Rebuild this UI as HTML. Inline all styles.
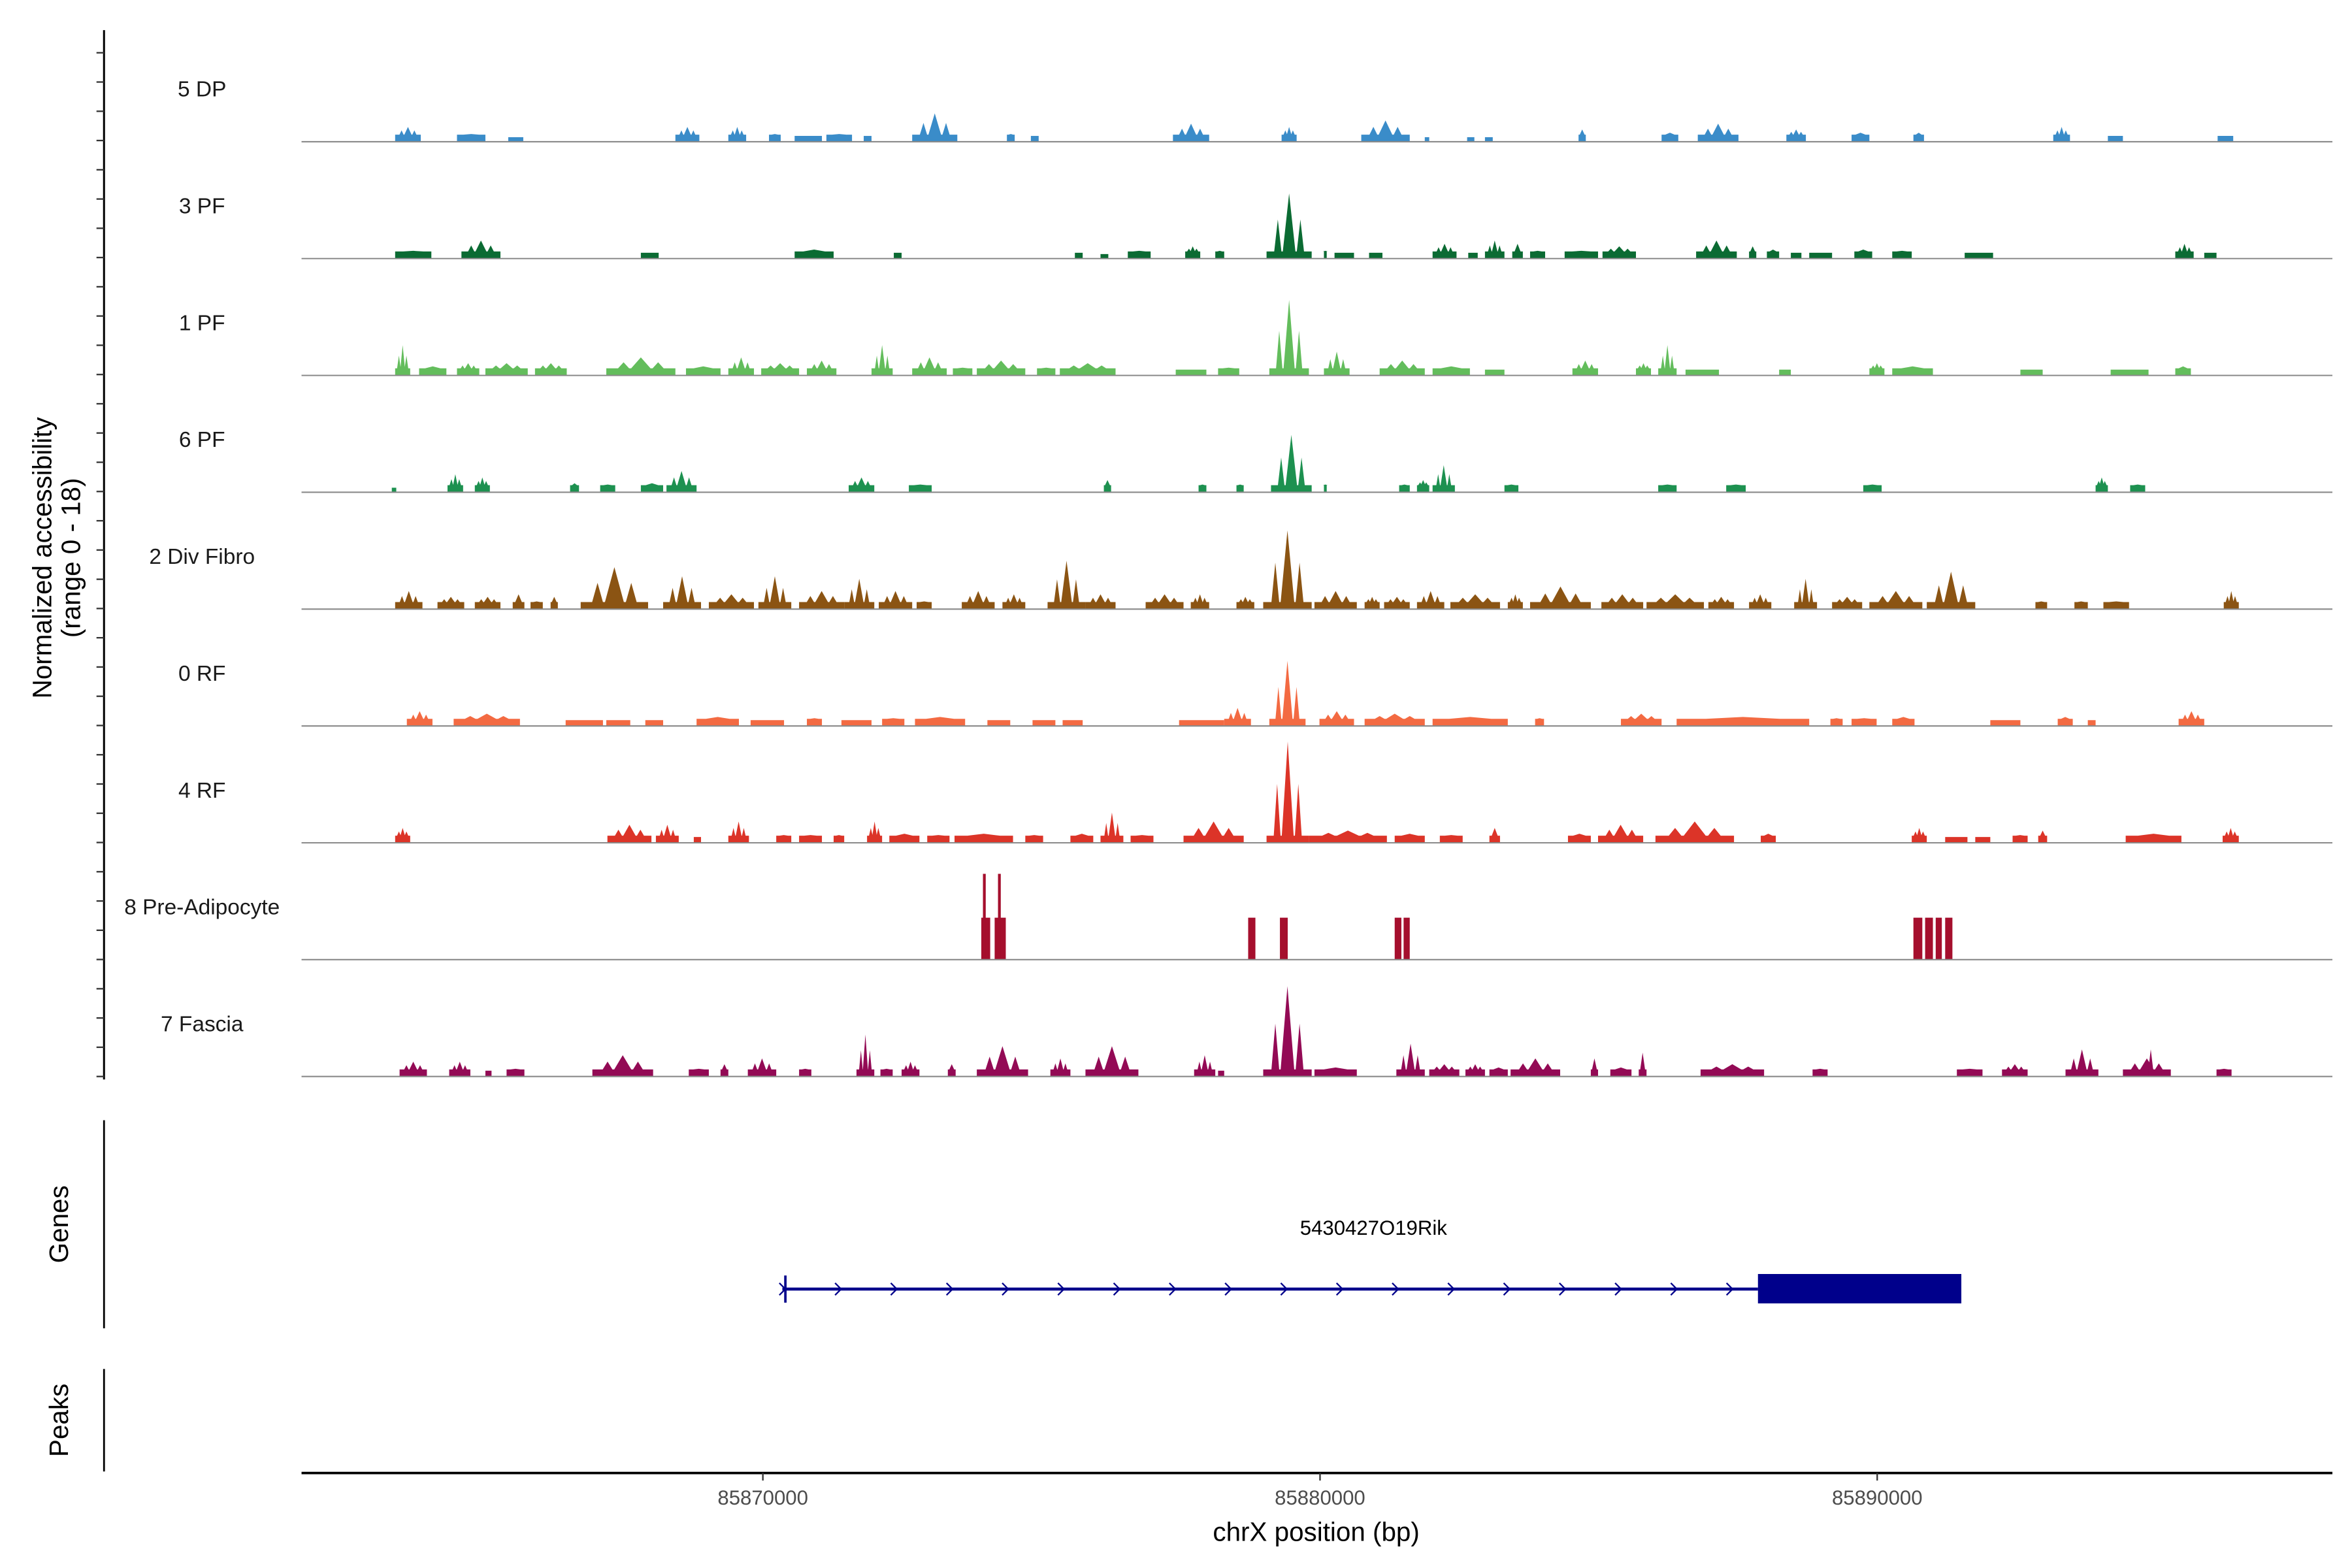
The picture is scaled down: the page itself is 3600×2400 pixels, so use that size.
<!DOCTYPE html>
<html><head><meta charset="utf-8">
<style>
html,body{margin:0;padding:0;background:#fff;}
svg{display:block;font-family:"Liberation Sans",Arial,sans-serif;}
</style></head>
<body>
<svg id="chart" width="3600" height="2400" viewBox="0 0 1560 1040" xmlns="http://www.w3.org/2000/svg">
<rect x="0" y="0" width="1560" height="1040" fill="#fff"/>
<g id="tracks"></g>
<g id="axes"></g>
<g id="gene"></g>
</svg>
<script>
// ---- data (positions in kb on chrX, heights in normalized accessibility 0-18) ----
const trackNames = ["5 DP","3 PF","1 PF","6 PF","2 Div Fibro","0 RF","4 RF","8 Pre-Adipocyte","7 Fascia"];
const trackColors = ["#3a8cc9","#0b6b33","#63bd5c","#1d9150","#8b5413","#f36a42","#dc3428","#a50f2d","#930a55"];
const xTicks = [85870000, 85880000, 85890000];
const dp5 = [[85863.40,85863.86,2.3],[85864.51,85865.02,1.2],[85865.43,85865.70,0.7],[85868.43,85868.86,2.3],[85869.38,85869.70,2.3],[85870.11,85870.32,1.2],[85870.57,85871.06,0.9],[85871.14,85871.60,1.2],[85871.81,85871.95,0.9],[85872.68,85873.49,4.4],[85874.38,85874.52,1.2],[85874.81,85874.95,0.9],[85877.36,85878.01,2.8],[85879.31,85879.58,2.3],[85880.74,85881.61,3.3],[85881.88,85881.96,0.7],[85882.64,85882.77,0.7],[85882.96,85883.10,0.7],[85884.64,85884.77,1.9],[85886.13,85886.43,1.4],[85886.78,85887.51,2.8],[85888.37,85888.72,1.9],[85889.54,85889.86,1.4],[85890.65,85890.84,1.4],[85893.16,85893.46,2.3],[85894.14,85894.41,0.9],[85896.11,85896.39,0.9]];
const pf3 = [[85863.40,85864.05,1.2],[85864.59,85865.29,2.8],[85867.81,85868.13,0.9],[85870.57,85871.27,1.4],[85872.35,85872.49,0.9],[85875.60,85875.74,0.9],[85876.06,85876.20,0.7],[85876.55,85876.96,1.2],[85877.58,85877.85,1.9],[85878.12,85878.28,1.2],[85879.04,85879.85,10.1],[85880.07,85880.12,1.2],[85880.26,85880.61,0.9],[85880.88,85881.12,0.9],[85882.02,85882.45,2.3],[85882.66,85882.83,0.9],[85882.96,85883.31,2.8],[85883.45,85883.64,2.3],[85883.77,85884.04,1.2],[85884.39,85884.99,1.2],[85885.07,85885.67,1.9],[85886.75,85887.48,2.8],[85887.70,85887.83,1.9],[85888.02,85888.24,1.4],[85888.45,85888.64,0.9],[85888.78,85889.19,0.9],[85889.59,85889.91,1.4],[85890.27,85890.62,1.2],[85891.57,85892.08,0.9],[85895.35,85895.68,2.3],[85895.87,85896.09,0.9]];
const pf1 = [[85863.40,85863.67,4.7],[85863.83,85864.32,1.4],[85864.51,85864.91,1.9],[85865.02,85865.78,1.9],[85865.91,85866.48,1.9],[85867.19,85868.43,2.8],[85868.62,85869.24,1.4],[85869.38,85869.84,2.8],[85869.97,85870.65,1.9],[85870.79,85871.32,2.3],[85871.95,85872.33,4.7],[85872.68,85873.30,2.8],[85873.41,85873.76,1.2],[85873.84,85874.71,2.3],[85874.92,85875.25,1.2],[85875.33,85876.33,1.9],[85877.41,85877.96,0.9],[85878.17,85878.55,1.2],[85879.09,85879.80,11.7],[85880.07,85880.53,3.7],[85881.07,85881.88,2.3],[85882.02,85882.69,1.4],[85882.96,85883.31,0.9],[85884.53,85884.99,2.3],[85885.67,85885.94,1.9],[85886.07,85886.40,4.7],[85886.56,85887.16,0.9],[85888.24,85888.45,0.9],[85889.86,85890.13,1.9],[85890.27,85891.00,1.4],[85892.57,85892.97,0.9],[85894.19,85894.87,0.9],[85895.35,85895.63,1.4]];
const pf6 = [[85863.34,85863.42,0.7],[85864.34,85864.62,2.8],[85864.83,85865.10,2.3],[85866.54,85866.70,1.4],[85867.08,85867.35,1.2],[85867.81,85868.21,1.4],[85868.27,85868.81,3.3],[85871.54,85872.00,2.3],[85872.62,85873.03,1.2],[85876.12,85876.25,1.9],[85877.82,85877.96,1.2],[85878.50,85878.63,1.2],[85879.12,85879.85,8.9],[85880.07,85880.12,1.2],[85881.42,85881.61,1.2],[85881.74,85881.96,1.9],[85882.02,85882.42,4.2],[85883.31,85883.56,1.2],[85886.07,85886.40,1.2],[85887.29,85887.64,1.2],[85889.75,85890.08,1.2],[85893.92,85894.14,2.3],[85894.54,85894.81,1.2]];
const div2 = [[85863.40,85863.89,2.8],[85864.16,85864.64,1.9],[85864.83,85865.29,1.9],[85865.51,85865.72,2.3],[85865.83,85866.05,1.2],[85866.19,85866.32,1.9],[85866.73,85867.94,6.5],[85868.21,85868.89,5.1],[85869.03,85869.84,2.3],[85869.92,85870.51,5.1],[85870.65,85871.46,2.8],[85871.46,85872.00,4.7],[85872.08,85872.68,2.8],[85872.76,85873.03,1.2],[85873.57,85874.16,2.8],[85874.30,85874.71,2.3],[85875.11,85875.79,7.5],[85875.79,85876.33,2.3],[85876.87,85877.55,2.3],[85877.68,85878.01,2.3],[85878.50,85878.82,1.9],[85878.98,85879.85,12.2],[85879.90,85880.66,2.8],[85880.80,85881.07,1.9],[85881.15,85881.61,1.9],[85881.74,85882.23,2.8],[85882.34,85883.23,2.3],[85883.37,85883.64,2.3],[85883.77,85884.86,3.5],[85885.05,85885.80,2.3],[85885.86,85886.89,2.3],[85886.97,85887.43,1.9],[85887.70,85888.10,2.3],[85888.51,85888.92,4.7],[85889.19,85889.73,1.9],[85889.86,85890.81,2.8],[85890.89,85891.76,5.8],[85892.84,85893.05,1.2],[85893.54,85893.78,1.2],[85894.06,85894.52,1.2],[85896.22,85896.49,2.8]];
const rf0 = [[85863.61,85864.07,2.3],[85864.45,85865.64,1.9],[85866.46,85867.13,0.9],[85867.19,85867.62,0.9],[85867.89,85868.21,0.9],[85868.81,85869.57,1.4],[85869.78,85870.38,0.9],[85870.79,85871.06,1.2],[85871.41,85871.95,0.9],[85872.14,85872.54,1.2],[85872.73,85873.63,1.4],[85874.03,85874.44,0.9],[85874.84,85875.25,0.9],[85875.38,85875.74,0.9],[85877.47,85878.28,0.9],[85878.28,85878.76,2.8],[85879.09,85879.74,10.1],[85879.99,85880.61,2.3],[85880.80,85881.88,1.9],[85882.02,85883.37,1.4],[85883.86,85884.02,1.2],[85885.40,85886.13,1.9],[85886.40,85888.78,1.4],[85889.16,85889.38,1.2],[85889.54,85889.99,1.2],[85890.27,85890.67,1.4],[85892.03,85892.57,0.9],[85893.24,85893.51,1.4],[85893.78,85893.92,0.9],[85895.41,85895.87,2.3]];
const rf4 = [[85863.40,85863.67,2.3],[85867.21,85868.00,2.8],[85868.08,85868.49,2.8],[85868.76,85868.89,0.9],[85869.38,85869.75,3.3],[85870.24,85870.51,1.2],[85870.65,85871.06,1.2],[85871.27,85871.46,1.2],[85871.87,85872.14,3.3],[85872.27,85872.81,1.4],[85872.95,85873.35,1.2],[85873.44,85874.49,1.4],[85874.71,85875.03,1.2],[85875.52,85875.93,1.4],[85876.06,85876.47,4.7],[85876.60,85877.01,1.2],[85877.55,85878.63,3.3],[85879.04,85879.80,15.7],[85879.80,85881.20,1.9],[85881.34,85881.88,1.4],[85882.15,85882.56,1.2],[85883.04,85883.23,2.3],[85884.45,85884.86,1.4],[85884.99,85885.80,2.8],[85886.02,85887.43,3.3],[85887.91,85888.18,1.4],[85890.62,85890.89,2.3],[85891.22,85891.62,0.9],[85891.76,85892.03,0.9],[85892.43,85892.70,1.2],[85892.89,85893.05,1.9],[85894.46,85895.46,1.4],[85896.20,85896.49,2.3]];
const pre8 = [[85873.92,85874.08,6.5],[85873.95,85874.00,13.3],[85874.16,85874.36,6.5],[85874.22,85874.27,13.3],[85878.71,85878.84,6.5],[85879.28,85879.42,6.5],[85881.34,85881.46,6.5],[85881.50,85881.61,6.5],[85890.65,85890.81,6.5],[85890.86,85891.00,6.5],[85891.05,85891.16,6.5],[85891.22,85891.35,6.5]];
const fas7 = [[85863.48,85863.97,2.3],[85864.37,85864.75,2.3],[85865.02,85865.13,0.9],[85865.40,85865.72,1.2],[85866.94,85868.03,3.3],[85868.67,85869.03,1.2],[85869.24,85869.38,1.9],[85869.73,85870.24,2.8],[85870.65,85870.87,1.2],[85871.68,85872.00,6.5],[85872.11,85872.33,1.2],[85872.49,85872.81,2.3],[85873.32,85873.46,1.9],[85873.84,85874.76,4.7],[85875.16,85875.52,2.8],[85875.79,85876.74,4.7],[85877.74,85878.12,3.3],[85878.17,85878.28,0.9],[85878.98,85879.85,14.0],[85879.90,85880.66,1.4],[85881.37,85881.88,5.1],[85881.96,85882.50,1.9],[85882.61,85882.96,1.9],[85883.04,85883.37,1.4],[85883.42,85884.31,2.8],[85884.86,85884.99,2.8],[85885.21,85885.59,1.4],[85885.72,85885.86,3.7],[85886.83,85887.97,1.9],[85888.84,85889.11,1.2],[85891.43,85891.89,1.2],[85892.24,85892.70,1.9],[85893.38,85893.97,4.2],[85894.41,85895.27,2.8],[85894.87,85894.95,4.2],[85896.09,85896.36,1.2]];
const trackData = [dp5, pf3, pf1, pf6, div2, rf0, rf4, pre8, fas7];
const geneName = "5430427O19Rik";
const geneStart = 85870.35, geneEnd = 85891.51, exonStart = 85887.86;

// ---- scales ----
const NS = "http://www.w3.org/2000/svg";
const X0 = 200, X1 = 1547;
const kbMin = 85861.72, kbMax = 85898.17;
function xs(kb){ return X0 + (kb - kbMin) / (kbMax - kbMin) * (X1 - X0); }
const baseline0 = 94, trackStep = 77.5, trackH = 77;
function ys(t, v){ return baseline0 + t*trackStep - v/18*trackH; }
function mk(tag, attrs, parent){ const e=document.createElementNS(NS,tag); for(const k in attrs) e.setAttribute(k,attrs[k]); parent.appendChild(e); return e; }
function spike(t, m, w, bh, h){ return `L${m-w},${ys(t,bh)}L${m},${ys(t,h)}L${m+w},${ys(t,bh)}`; }

const tracksG = document.getElementById('tracks');
trackData.forEach((arr, t) => {
  const g = mk('g', {}, tracksG);
  
  
  const base = baseline0 + t*trackStep;
  const lab = mk('text', {x:134, y:base-30, 'text-anchor':'middle', 'font-size':14.5, fill:'#1a1a1a'}, g);
  lab.textContent = trackNames[t];
  
  
  arr.forEach(d => {
    const a = xs(d[0]), b = Math.max(xs(d[1]), a+1.2), h = d[2];
    let p;
    if (t === 7) {
      p = `M${a},${base}L${a},${ys(t,h)}L${b},${ys(t,h)}L${b},${base}Z`;
    } else {
      const bh = Math.min(h, 1.1);
      const span = b - a, m = (a+b)/2;
      p = `M${a},${base}L${a},${ys(t,bh)}`;
      if (span > 8 && h > 1.5) {
        const w1 = Math.max(span*0.08, 1.2), w = Math.max(span*0.14, 1.5);
        p += spike(t, a+span*0.25, w1, bh, bh+(h-bh)*0.55);
        p += spike(t, m, w, bh, h);
        p += spike(t, a+span*0.75, w1, bh, bh+(h-bh)*0.55);
      } else {
        p += spike(t, m, Math.max(span*0.28, 1.6), bh, h);
      }
      p += `L${b},${ys(t,bh)}L${b},${base}Z`;
    }
    const el = mk('path', {d:p, fill:trackColors[t]}, g);
    
    
  });
  const bl = mk('line', {x1:X0, x2:X1, y1:base, y2:base, stroke:'#8a8a8a', 'stroke-width':0.9}, g);
  
  
});

// ---- axes ----
const axG = document.getElementById('axes');
const yAx = mk('line', {x1:69, x2:69, y1:20, y2:716, stroke:'#000', 'stroke-width':1.3}, axG);


for (let y = 35; y <= 716; y += 19.4) {
  const tk = mk('line', {x1:64, x2:69, y1:y, y2:y, stroke:'#333', 'stroke-width':1}, axG);
  
  
}
const yt = mk('text', {transform:'translate(34,370) rotate(-90)', 'text-anchor':'middle', 'font-size':17.5, fill:'#000'}, axG);


const t1 = mk('tspan', {x:0, dy:0}, yt); t1.textContent = 'Normalized accessibility';
const t2 = mk('tspan', {x:0, dy:19}, yt); t2.textContent = '(range 0 - 18)';

const gAx = mk('line', {x1:69, x2:69, y1:743, y2:881, stroke:'#000', 'stroke-width':1.2}, axG);


const gt = mk('text', {transform:'translate(45,812) rotate(-90)', 'text-anchor':'middle', 'font-size':17.5, fill:'#000'}, axG);
gt.textContent = 'Genes';


const pAx = mk('line', {x1:69, x2:69, y1:908, y2:976, stroke:'#000', 'stroke-width':1.2}, axG);


const pt = mk('text', {transform:'translate(45,942) rotate(-90)', 'text-anchor':'middle', 'font-size':17.5, fill:'#000'}, axG);
pt.textContent = 'Peaks';



const xAx = mk('line', {x1:X0, x2:X1, y1:977, y2:977, stroke:'#000', 'stroke-width':1.6}, axG);


xTicks.forEach(v => {
  const x = xs(v/1000);
  const tk = mk('line', {x1:x, x2:x, y1:977, y2:982, stroke:'#333', 'stroke-width':1}, axG);
  
  
  const tl = mk('text', {x:x, y:998, 'text-anchor':'middle', 'font-size':13.5, fill:'#4d4d4d'}, axG);
  tl.textContent = String(v);
  
  
});
const xt = mk('text', {x:873, y:1022, 'text-anchor':'middle', 'font-size':17.5, fill:'#000'}, axG);
xt.textContent = 'chrX position (bp)';



// ---- gene ----
const geneG = document.getElementById('gene');


const gy = 855;
const gl = mk('line', {x1:xs(geneStart), x2:xs(exonStart), y1:gy, y2:gy, stroke:'#00008b', 'stroke-width':2}, geneG);


const ex = mk('rect', {x:xs(exonStart), y:845, width:xs(geneEnd)-xs(exonStart), height:19.5, fill:'#00008b'}, geneG);


const st = mk('line', {x1:xs(geneStart)+2, x2:xs(geneStart)+2, y1:846, y2:864, stroke:'#00008b', 'stroke-width':1.6}, geneG);


for (let k = geneStart; k < exonStart - 0.3; k += 1) {
  const ax = xs(k);
  const ar = mk('path', {d:`M${ax-2},${gy-4}L${ax+2},${gy}L${ax-2},${gy+4}`, fill:'none', stroke:'#00008b', 'stroke-width':1}, geneG);
  
  
}
const gn = mk('text', {x:911, y:819, 'text-anchor':'middle', 'font-size':13.5, fill:'#000'}, geneG);
gn.textContent = geneName;


</script>
</body></html>
